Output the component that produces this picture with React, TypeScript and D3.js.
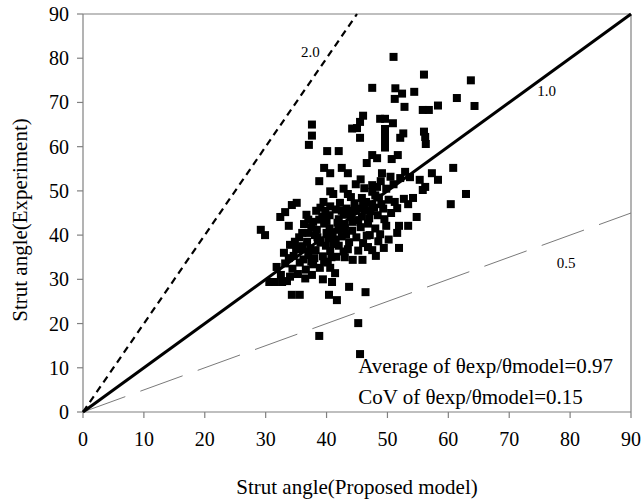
import * as d3 from 'd3';

const W = 642;
const H = 501;

const xTicks = [0, 10, 20, 30, 40, 50, 60, 70, 80, 90];
const yTicks = [0, 10, 20, 30, 40, 50, 60, 70, 80, 90];

// reference ratios theta_exp / theta_model
const ratioLines = [
  { ratio: 2.0, label: '2.0' },
  { ratio: 1.0, label: '1.0' },
  { ratio: 0.5, label: '0.5' },
];

const statLines = ['Average of θexp/θmodel=0.97', 'CoV of θexp/θmodel=0.15'];

// [proposed model, experiment]
const upperPoints: [number, number][] = [
  [51.0, 80.3], [56.0, 76.3], [63.7, 75.0], [47.5, 73.3], [51.3, 73.2], [52.4, 72.0],
  [54.4, 72.4], [51.2, 70.8], [61.4, 71.0], [52.8, 69.0], [58.3, 69.3], [64.3, 69.2],
  [55.8, 68.3], [56.8, 68.3], [46.0, 67.0], [45.5, 65.6], [44.2, 64.1], [45.0, 64.2],
  [48.8, 66.3], [49.6, 66.3], [50.9, 65.3], [49.6, 64.0], [49.6, 62.6], [49.6, 61.2],
  [49.6, 59.8], [52.6, 63.0], [52.1, 62.0], [56.0, 63.4], [56.2, 62.2], [56.3, 60.6],
  [37.6, 65.0], [37.6, 62.5], [37.1, 60.4], [45.5, 62.0], [40.1, 59.0], [42.0, 59.0],
  [47.5, 58.1], [48.3, 57.4], [46.6, 56.3], [51.7, 58.1], [50.7, 57.2], [60.8, 55.2],
  [39.6, 55.2], [40.6, 54.0], [42.5, 55.2], [43.5, 54.0], [38.8, 52.2], [49.1, 54.0],
  [52.9, 54.3], [52.1, 52.9], [57.3, 54.0], [58.3, 52.5], [53.7, 53.1], [47.5, 51.3],
  [48.3, 50.9], [55.3, 52.5], [56.2, 50.9],
];

const rightPoints: [number, number][] = [
  [62.9, 49.3], [60.4, 47.0], [55.8, 50.2], [54.2, 48.4], [53.4, 47.0], [51.6, 46.1],
  [54.8, 44.1], [53.4, 42.1], [51.9, 42.1], [51.6, 40.5], [49.8, 42.1], [51.9, 37.1],
  [48.1, 35.3], [47.1, 40.0], [46.8, 37.3], [47.5, 36.6],
];

const lowerPoints: [number, number][] = [
  [45.2, 20.1], [38.8, 17.2], [45.5, 13.1], [43.7, 28.3], [46.4, 27.1],
  [34.3, 26.5], [35.6, 26.5], [40.4, 26.5], [41.7, 25.3],
  [29.2, 41.2], [29.9, 40.0], [30.6, 29.4], [31.5, 29.4], [32.7, 29.4], [33.5, 29.6],
  [34.3, 46.8], [35.1, 47.3], [32.4, 44.1], [33.2, 45.2], [33.8, 42.1], [34.0, 37.8],
];

const corePoints: [number, number][] = [
  [44.8, 51.5], [46.2, 50.6], [49.8, 50.5], [51.0, 51.5], [47.5, 49.8], [41.1, 49.3],
  [43.5, 49.3], [40.6, 49.9],
  [39.5, 47.5], [40.6, 46.5], [42.2, 47.3], [44.6, 47.2], [45.8, 48.4], [47.5, 47.0],
  [48.6, 48.5], [50.2, 48.0], [51.2, 47.5], [52.7, 48.2],
  [36.7, 44.6], [38.3, 45.5], [39.3, 44.2], [40.5, 44.5], [41.5, 45.8], [42.8, 44.6],
  [44.5, 45.5], [45.8, 44.2], [47.2, 45.4], [48.4, 44.5], [49.3, 46.0], [50.6, 45.0],
  [36.3, 42.5], [37.5, 41.8], [38.4, 41.2], [39.6, 42.6], [40.5, 41.5], [41.8, 42.8],
  [43.0, 41.6], [44.3, 43.0], [45.6, 41.8], [46.8, 42.6], [48.0, 41.5],
  [35.5, 39.5], [36.8, 38.5], [38.1, 40.0], [39.0, 38.3], [40.3, 39.3], [41.2, 38.0],
  [42.5, 39.7], [43.7, 38.4], [44.9, 39.5], [46.0, 38.2], [48.5, 38.6], [50.2, 39.0],
  [33.0, 36.0], [34.6, 35.3], [35.8, 36.8], [37.0, 35.5], [38.2, 36.6], [39.4, 35.2],
  [40.6, 36.4], [41.6, 35.1], [42.8, 36.3], [44.3, 34.4], [45.9, 34.4], [49.4, 37.1],
  [31.8, 32.8], [33.2, 33.6], [34.4, 32.4], [35.6, 33.8], [36.6, 32.2], [37.8, 33.4],
  [38.9, 32.6], [40.2, 33.8], [40.6, 32.6], [41.4, 31.4], [40.9, 29.4],
  [34.0, 30.6], [35.3, 31.2], [36.5, 30.2], [37.6, 31.0], [39.4, 30.0],
  [36.0, 37.5], [37.3, 37.0], [38.6, 38.8], [39.9, 37.6], [41.0, 40.6], [42.0, 41.2],
  [43.2, 40.2], [44.2, 41.0], [45.2, 43.4], [46.3, 45.6], [47.8, 46.2], [43.3, 46.0],
  [42.0, 43.6], [40.0, 43.2], [38.8, 43.5], [37.0, 40.5], [35.0, 37.0], [36.2, 34.5],
  [38.0, 34.8], [39.6, 34.0], [42.0, 37.6], [43.5, 36.8], [45.2, 36.5], [46.6, 39.9],
  [48.8, 40.2], [49.5, 43.6], [46.0, 46.8], [44.0, 48.6], [42.8, 50.5], [45.6, 52.6],
  [48.9, 52.2], [50.5, 53.2], [39.0, 46.2], [37.8, 43.0], [32.5, 31.0], [33.8, 34.8],
  [37.0, 43.5], [38.5, 39.5], [40.0, 40.5], [41.5, 39.0], [43.0, 42.5], [44.0, 44.5],
  [45.0, 46.0], [46.5, 47.5], [47.0, 43.8], [42.5, 45.5], [39.8, 45.5], [36.0, 40.5],
  [34.8, 38.5], [37.5, 34.0], [40.8, 35.0], [43.0, 35.0], [48.0, 49.0], [49.0, 47.0],
];

const points = [...upperPoints, ...rightPoints, ...lowerPoints, ...corePoints];

const FONT = '"Liberation Serif", "Times New Roman", serif';
const AXIS = '#808080';

export default function App() {
  const margin = { top: 14, right: 11, bottom: 89, left: 83 };
  const x = d3.scaleLinear().domain([0, 90]).range([margin.left, W - margin.right]);
  const y = d3.scaleLinear().domain([0, 90]).range([H - margin.bottom, margin.top]);

  const lineFor = (ratio: number) => {
    const end = Math.min(90, 90 / ratio);
    return d3.line<number>()
      .x((d) => x(d))
      .y((d) => y(d * ratio))([0, end]) as string;
  };

  const ms = 8;

  return (
    <svg
      width={W}
      height={H}
      style={{ position: 'absolute', left: 0, top: 0, background: '#fff', fontFamily: FONT }}
    >
      {/* frame */}
      <line x1={x(0)} x2={x(90)} y1={y(90)} y2={y(90)} stroke={AXIS} strokeWidth={1.2} />
      <line x1={x(90)} x2={x(90)} y1={y(90)} y2={y(0)} stroke={AXIS} strokeWidth={1.2} />

      {/* axes */}
      <line x1={x(0)} x2={x(90)} y1={y(0)} y2={y(0)} stroke={AXIS} strokeWidth={1.2} />
      <line x1={x(0)} x2={x(0)} y1={y(0)} y2={y(90)} stroke={AXIS} strokeWidth={1.2} />
      {xTicks.map((t) => (
        <g key={'x' + t}>
          <line x1={x(t)} x2={x(t)} y1={y(0)} y2={y(0) + 6} stroke={AXIS} strokeWidth={1.2} />
          <text x={x(t)} y={y(0) + 34} fontSize={20} textAnchor="middle">{t}</text>
        </g>
      ))}
      {yTicks.map((t) => (
        <g key={'y' + t}>
          <line x1={x(0) - 6} x2={x(0)} y1={y(t)} y2={y(t)} stroke={AXIS} strokeWidth={1.2} />
          <text x={x(0) - 14} y={y(t) + 7} fontSize={20} textAnchor="end">{t}</text>
        </g>
      ))}

      {/* ratio lines */}
      <path d={lineFor(ratioLines[2].ratio)} stroke="#7a7a7a" strokeWidth={1} fill="none" strokeDasharray="45,16" />
      <path d={lineFor(ratioLines[0].ratio)} stroke="#000" strokeWidth={2.2} fill="none" strokeDasharray="7,5" />
      <path d={lineFor(ratioLines[1].ratio)} stroke="#000" strokeWidth={3} fill="none" />

      {/* points */}
      {points.map(([px, py], i) => (
        <rect key={i} x={x(px) - ms / 2} y={y(py) - ms / 2} width={ms} height={ms} fill="#000" />
      ))}

      {/* line labels */}
      <text x={x(35.8)} y={y(80.3)} fontSize={15}>{ratioLines[0].label}</text>
      <text x={x(74.6)} y={y(71.5)} fontSize={15}>{ratioLines[1].label}</text>
      <text x={x(77.8)} y={y(32.6)} fontSize={15}>{ratioLines[2].label}</text>

      {/* statistics */}
      {statLines.map((s, i) => (
        <text key={s} x={x(45.2)} y={y(8.8) + i * 31} fontSize={21}>{s}</text>
      ))}

      {/* axis titles */}
      <text x={(x(0) + x(90)) / 2} y={494} fontSize={21} textAnchor="middle">Strut angle(Proposed model)</text>
      <text
        transform={`translate(27,${(y(0) + y(90)) / 2 + 7}) rotate(-90)`}
        fontSize={21}
        textAnchor="middle"
      >
        Strut angle(Experiment)
      </text>
    </svg>
  );
}
